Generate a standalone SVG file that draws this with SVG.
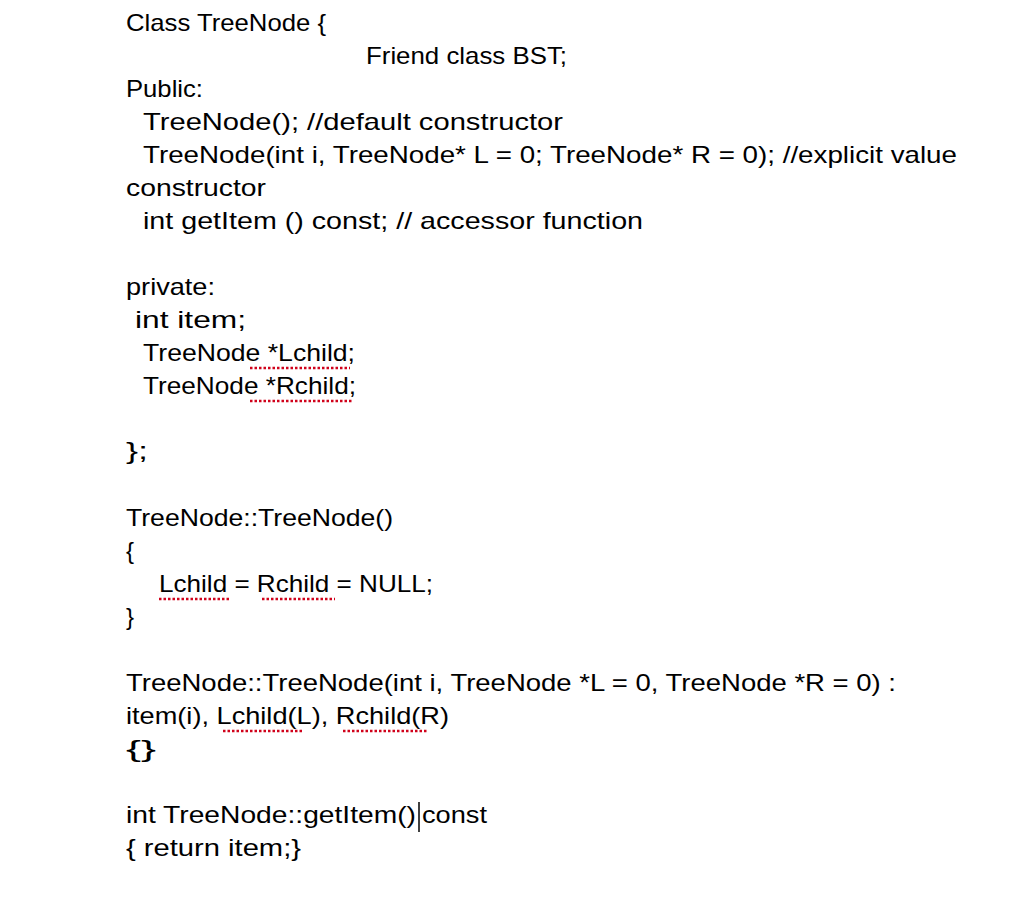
<svg xmlns="http://www.w3.org/2000/svg" width="1024" height="897" viewBox="0 0 1024 897">
<style>
text{font-family:"Liberation Sans","DejaVu Sans",sans-serif;font-size:24px;fill:#000}
.sq{stroke:#d0021b;stroke-width:2.5;stroke-dasharray:2.5,2}
</style>
<rect width="1024" height="897" fill="#fff"/>
<g id="code">
<text x="126" y="31" textLength="200" lengthAdjust="spacingAndGlyphs">Class TreeNode {</text>
<text x="366" y="64" textLength="201" lengthAdjust="spacingAndGlyphs">Friend class BST;</text>
<text x="126" y="97" textLength="77" lengthAdjust="spacingAndGlyphs">Public:</text>
<text x="143" y="130" textLength="420" lengthAdjust="spacingAndGlyphs">TreeNode();  //default constructor</text>
<text x="143" y="163" textLength="814" lengthAdjust="spacingAndGlyphs">TreeNode(int i, TreeNode* L = 0; TreeNode* R = 0); //explicit value</text>
<text x="126" y="196" textLength="140" lengthAdjust="spacingAndGlyphs">constructor</text>
<text x="143" y="229" textLength="500" lengthAdjust="spacingAndGlyphs">int getItem () const; // accessor function</text>
<text x="126" y="295" textLength="89" lengthAdjust="spacingAndGlyphs">private:</text>
<text x="135" y="328" textLength="111" lengthAdjust="spacingAndGlyphs">int item;</text>
<text x="143" y="361" textLength="212" lengthAdjust="spacingAndGlyphs">TreeNode *Lchild;</text>
<text x="143" y="394" textLength="213" lengthAdjust="spacingAndGlyphs">TreeNode *Rchild;</text>
<text x="126" y="459" textLength="22" lengthAdjust="spacingAndGlyphs">};</text>
<text x="126" y="526" textLength="267" lengthAdjust="spacingAndGlyphs">TreeNode::TreeNode()</text>
<text x="126" y="559">{</text>
<text x="159" y="592" textLength="274" lengthAdjust="spacingAndGlyphs">Lchild = Rchild = NULL;</text>
<text x="126" y="625">}</text>
<text x="126" y="691" textLength="770" lengthAdjust="spacingAndGlyphs">TreeNode::TreeNode(int i, TreeNode *L = 0, TreeNode *R = 0) :</text>
<text x="126" y="724" textLength="323" lengthAdjust="spacingAndGlyphs">item(i), Lchild(L), Rchild(R)</text>
<text x="126" y="757" textLength="30" lengthAdjust="spacingAndGlyphs">{}</text>
<text x="126" y="823" textLength="290" lengthAdjust="spacingAndGlyphs">int TreeNode::getItem()</text>
<text x="422" y="823" textLength="65" lengthAdjust="spacingAndGlyphs">const</text>
<text x="126" y="856" textLength="175" lengthAdjust="spacingAndGlyphs">{ return item;}</text>
</g>
<g id="marks">
<line class="sq" x1="250" y1="368" x2="350" y2="368"/>
<line class="sq" x1="250" y1="401" x2="352" y2="401"/>
<line class="sq" x1="159" y1="599" x2="231" y2="599"/>
<line class="sq" x1="262" y1="599" x2="335" y2="599"/>
<line class="sq" x1="223" y1="731" x2="302" y2="731"/>
<line class="sq" x1="343" y1="731" x2="428" y2="731"/>
<line x1="419" y1="802" x2="419" y2="832" stroke="#000" stroke-width="1.5"/>
</g>
</svg>
